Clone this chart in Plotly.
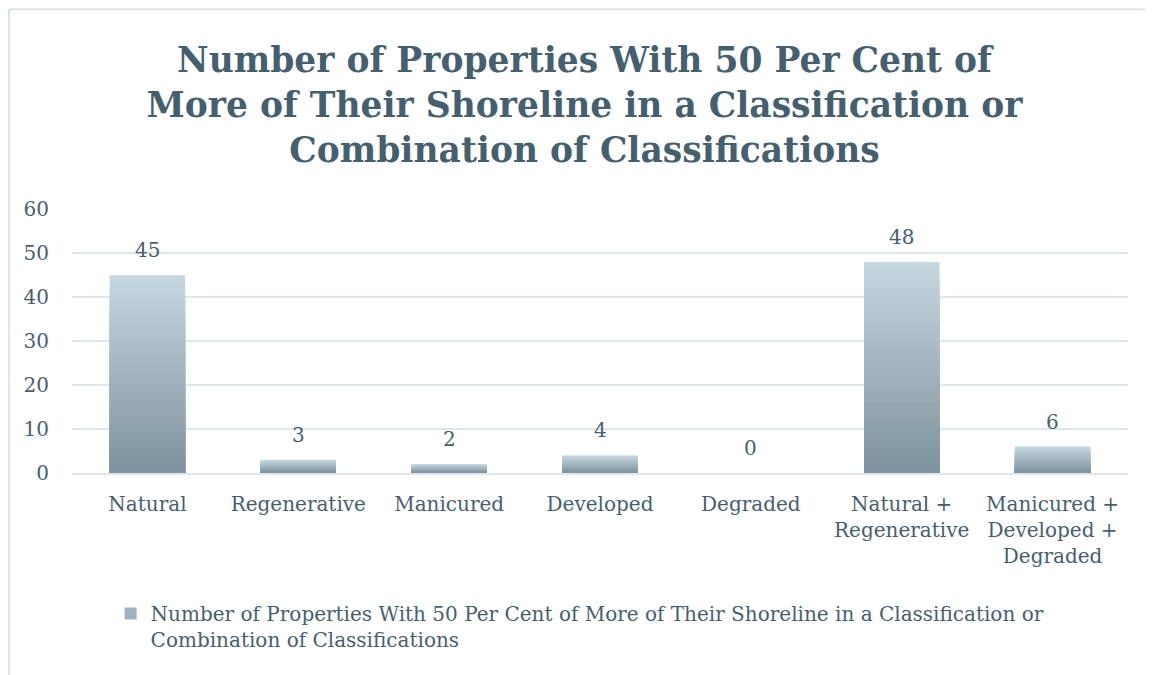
import plotly.graph_objects as go

categories = ["Natural", "Regenerative", "Manicured", "Developed", "Degraded",
              "Natural +<br>Regenerative", "Manicured +<br>Developed +<br>Degraded"]
counts = [45, 3, 2, 4, 0, 48, 6]

series_name = ("Number of Properties With 50 Per Cent of More of Their Shoreline in a Classification or<br>"
               "Combination of Classifications")
title_text = ("Number of Properties With 50 Per Cent of<br>More of Their Shoreline in a Classification or<br>"
              "Combination of Classifications")

TEXT = "#465f6f"
FONT = "DejaVu Serif"

# gradient colours, light at top to dark at bottom
top_rgb = (196, 214, 222)
bot_rgb = (124, 144, 157)
steps = 24

fig = go.Figure()

# overlaid bars from base 0, each shorter and darker -> vertical gradient
for i in range(steps):
    f = i / steps
    r = [round(top_rgb[k] + (bot_rgb[k] - top_rgb[k]) * f) for k in range(3)]
    color = f"rgb({r[0]},{r[1]},{r[2]})"
    fig.add_trace(go.Bar(
        x=categories,
        y=[v * (1 - f) for v in counts],
        marker=dict(color=color, line_width=0),
        width=0.5,
        name=series_name,
        showlegend=(i == steps // 2),
        hoverinfo="skip" if i else "x+y",
    ))

# data labels above bars
for c, v in zip(categories, counts):
    fig.add_annotation(x=c, y=v, text=str(v), showarrow=False,
                       yanchor="bottom", yshift=11,
                       font=dict(family=FONT, size=20, color=TEXT))

# chart frame: only top and left edges are visible in the reference
frame = dict(color="#dde4e8", width=2)
fig.add_shape(type="line", xref="paper", yref="paper",
              x0=-0.0596, x1=1.2, y0=1.757, y1=1.757, line=frame, layer="below")
fig.add_shape(type="line", xref="paper", yref="paper",
              x0=-0.0596, x1=-0.0596, y0=-0.8, y1=1.757, line=frame, layer="below")

# page body adds an 8px offset, margins are compensated for it
fig.update_layout(
    width=1153,
    height=675,
    barmode="overlay",
    paper_bgcolor="white",
    plot_bgcolor="white",
    margin=dict(l=64, r=33, t=201, b=210),
    title=dict(
        text=title_text,
        x=0.5,
        xanchor="center",
        y=0.905,
        yanchor="top",
        font=dict(family=FONT, size=34.5, color=TEXT, weight="bold"),
    ),
    font=dict(family=FONT, color=TEXT, size=20),
    legend=dict(
        orientation="h",
        xref="container",
        yref="container",
        x=0.089,
        xanchor="left",
        y=0.132,
        yanchor="top",
        valign="top",
        font=dict(family=FONT, size=20, color=TEXT),
    ),
)

fig.update_yaxes(
    range=[0, 60.05],
    dtick=10,
    showgrid=True,
    gridcolor="#e1e8ec",
    gridwidth=2,
    zeroline=False,
    showline=False,
    ticks="",
    tickfont=dict(family=FONT, size=20, color=TEXT),
    ticklabelstandoff=22,
    automargin=False,
)
fig.update_xaxes(
    showline=True,
    linecolor="#e1e8ec",
    linewidth=2,
    ticks="",
    tickfont=dict(family=FONT, size=20, color=TEXT),
    ticklabelstandoff=12,
    automargin=False,
)

fig.write_html("out.html")
